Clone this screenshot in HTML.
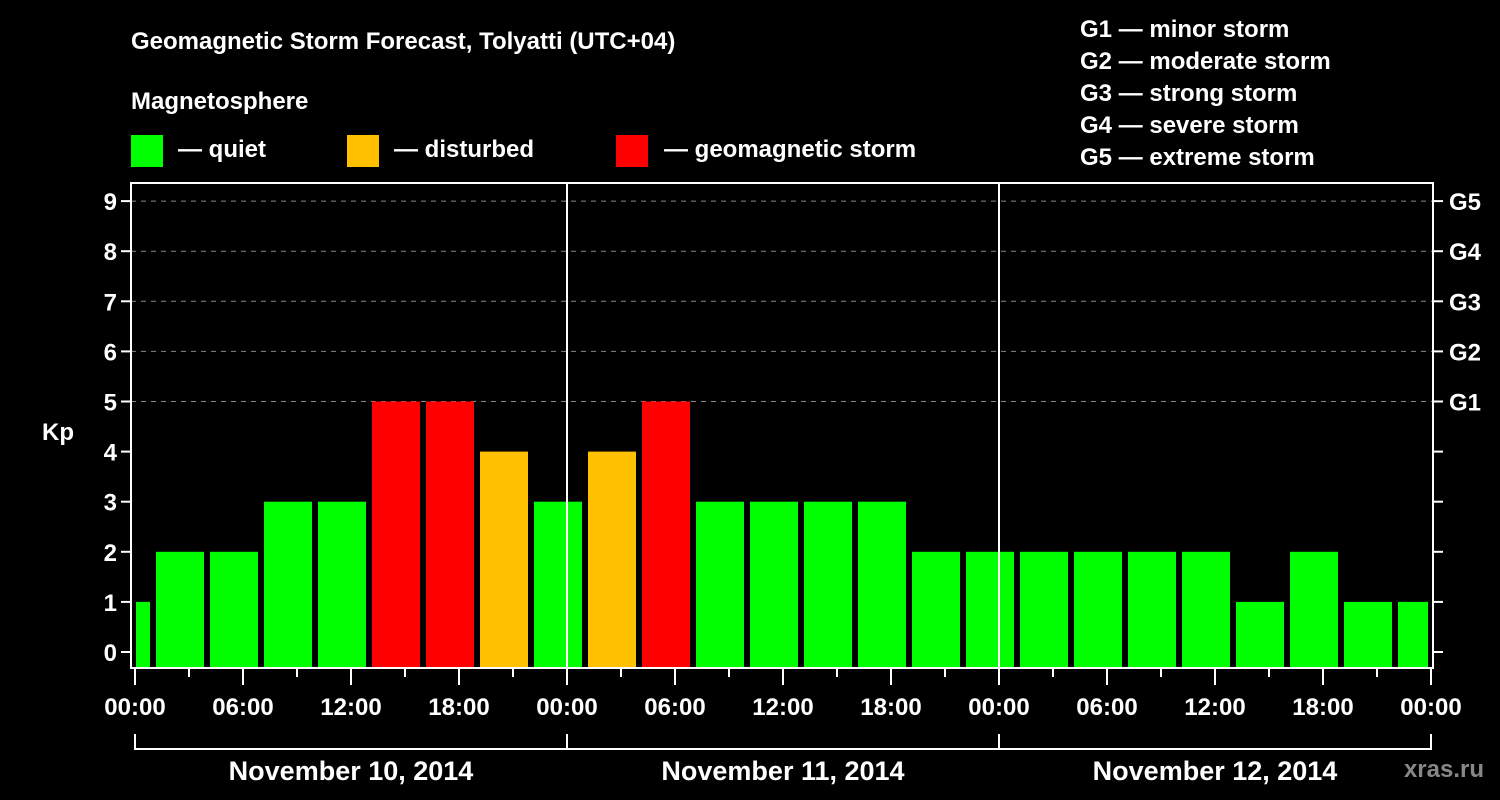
<!DOCTYPE html>
<html><head><meta charset="utf-8"><style>
html,body{margin:0;padding:0;background:#000;}
svg{display:block;font-family:"Liberation Sans",Arial,sans-serif;font-weight:bold;}
</style></head><body>
<svg id="chart" width="1500" height="800" viewBox="0 0 1500 800">
<rect width="1500" height="800" fill="#000"/>
<text x="131" y="49" fill="#fff" font-size="24">Geomagnetic Storm Forecast, Tolyatti (UTC+04)</text>
<text x="131" y="109" fill="#fff" font-size="24">Magnetosphere</text>
<g><rect x="131" y="135" width="32" height="32" fill="#00ff00"/><text x="178" y="157" fill="#fff" font-size="24">— quiet</text></g>
<g><rect x="347" y="135" width="32" height="32" fill="#ffc000"/><text x="394" y="157" fill="#fff" font-size="24">— disturbed</text></g>
<g><rect x="616" y="135" width="32" height="32" fill="#ff0000"/><text x="664" y="157" fill="#fff" font-size="24">— geomagnetic storm</text></g>
<g fill="#fff" font-size="24">
<text x="1080" y="37">G1 — minor storm</text>
<text x="1080" y="69">G2 — moderate storm</text>
<text x="1080" y="101">G3 — strong storm</text>
<text x="1080" y="133">G4 — severe storm</text>
<text x="1080" y="165">G5 — extreme storm</text>
</g>
<text x="42" y="440" fill="#fff" font-size="24">Kp</text>
<text x="1484" y="777" fill="#888" font-size="24" text-anchor="end">xras.ru</text>
<g id="grid"></g>
<g id="bars"></g>
<g id="axes"></g>
</svg>
<script>
const kpValues = [1, 2,2,3,3,5,5,4,3, 4,5,3,3,3,3,2,2, 2,2,2,2,1,2,1,1];
const slotStartHours = [-2, 1,4,7,10,13,16,19,22, 25,28,31,34,37,40,43,46, 49,52,55,58,61,64,67,70];
const dayLabels = ["November 10, 2014","November 11, 2014","November 12, 2014"];
const yTicks = [0,1,2,3,4,5,6,7,8,9];
const gLabels = ["G1","G2","G3","G4","G5"];
const gLevels = [5,6,7,8,9];
const xTickLabels = ["00:00","06:00","12:00","18:00","00:00","06:00","12:00","18:00","00:00","06:00","12:00","18:00","00:00"];

const NS="http://www.w3.org/2000/svg";
const L=131,R=1433,T=183,B=668;
const x0=135, pxH=18;
const xs=h=>x0+h*pxH;
const ys=v=>652-v*50.1;
function mk(tag,attrs,parent){const e=document.createElementNS(NS,tag);for(const k in attrs)e.setAttribute(k,attrs[k]);parent.appendChild(e);return e;}
const grid=document.getElementById('grid'),bars=document.getElementById('bars'),axes=document.getElementById('axes');

gLevels.forEach((lv,i)=>{
  const ln=mk('line',{x1:L,x2:R,y1:ys(lv),y2:ys(lv),stroke:'#888','stroke-width':1,'stroke-dasharray':'5,5'},grid);
  
  
});

function color(v){return v>=5?'#ff0000':(v>=4?'#ffc000':'#00ff00');}
kpValues.forEach((v,i)=>{
  let a=xs(slotStartHours[i])+3, b=a+48;
  a=Math.max(a,136); b=Math.min(b,1428);
  const r=mk('rect',{x:a,y:ys(v),width:b-a,height:B-ys(v),fill:color(v)},bars);
  
  
});

const frame=mk('rect',{x:L,y:T,width:R-L,height:B-T,fill:'none',stroke:'#fff','stroke-width':2},axes);


[1,2].forEach(d=>{
  const ln=mk('line',{x1:xs(24*d),x2:xs(24*d),y1:T,y2:B,stroke:'#fff','stroke-width':2},axes);
  
  
});
yTicks.forEach(v=>{
  mk('line',{x1:L-10,x2:L,y1:ys(v),y2:ys(v),stroke:'#fff','stroke-width':2},axes);
  mk('line',{x1:R,x2:R+10,y1:ys(v),y2:ys(v),stroke:'#fff','stroke-width':2},axes);
  const t=mk('text',{x:L-14,y:ys(v)+9,fill:'#fff','font-size':24,'text-anchor':'end'},axes);
  t.textContent=v;
  
  
});
gLabels.forEach((g,i)=>{
  const t=mk('text',{x:1449,y:ys(gLevels[i])+9,fill:'#fff','font-size':24},axes);
  t.textContent=g;
  
  
});
for(let h=0;h<=72;h+=3){
  const major=h%6===0;
  mk('line',{x1:xs(h),x2:xs(h),y1:B,y2:B+(major?17:9),stroke:'#fff','stroke-width':2},axes);
}
xTickLabels.forEach((lab,i)=>{
  const t=mk('text',{x:xs(i*6),y:715,fill:'#fff','font-size':24,'text-anchor':'middle'},axes);
  t.textContent=lab;
  
  
});
mk('line',{x1:xs(0),x2:xs(72),y1:749,y2:749,stroke:'#fff','stroke-width':2},axes);
[0,24,48,72].forEach(h=>mk('line',{x1:xs(h),x2:xs(h),y1:734,y2:750,stroke:'#fff','stroke-width':2},axes));
dayLabels.forEach((d,i)=>{
  const t=mk('text',{x:xs(24*i+12),y:780,fill:'#fff','font-size':27,'text-anchor':'middle'},axes);
  t.textContent=d;
  
  
});
</script>
</body></html>
